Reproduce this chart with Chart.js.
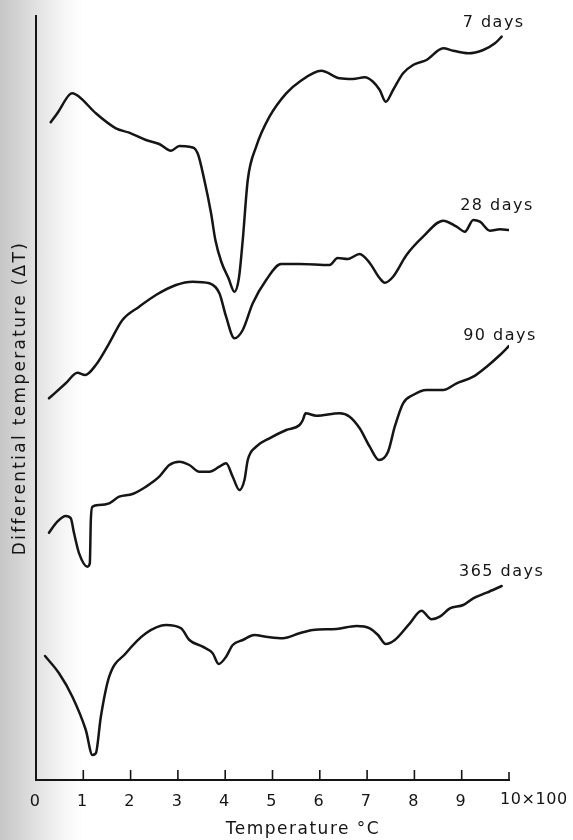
<!DOCTYPE html>
<html>
<head>
<meta charset="utf-8">
<script src="https://cdn.jsdelivr.net/npm/chart.js@4/dist/chart.umd.min.js"></script>
<style>
  html, body { margin: 0; padding: 0; }
  body {
    width: 573px; height: 840px; overflow: hidden;
    background: linear-gradient(to right, #c6c6c6 0px, #d3d3d3 18px, #e6e6e6 42px, #f7f7f7 66px, #ffffff 84px);
  }
  canvas { display: block; }
</style>
</head>
<body>
<canvas id="dta" width="573" height="840"></canvas>
<script>
// DTA traces: temperature in units of 100 °C, ΔT in arbitrary units (curves offset for clarity)
const seriesNames = ['7 days', '28 days', '90 days', '365 days'];
const xTickValues = [0, 1, 2, 3, 4, 5, 6, 7, 8, 9, 10];
const xTickLabels = ['0', '1', '2', '3', '4', '5', '6', '7', '8', '9', '10×100'];

const days7T = [0.311,0.451,0.699,0.769,0.911,1.265,1.689,1.970,2.324,2.606,2.854,3.030,3.242,3.417,3.559,3.701,3.792,3.919,4.068,4.195,4.290,4.371,4.477,4.655,4.936,5.290,5.572,6.032,6.419,6.701,6.949,7.125,7.267,7.394,7.549,7.761,7.972,8.256,8.608,8.820,9.138,9.455,9.703,9.845];
const days7DT = [65.77,66.67,68.50,68.67,68.33,66.67,65.17,64.73,64.00,63.60,62.93,63.40,63.33,62.67,60.00,56.67,54.00,51.80,50.20,48.83,50.20,54.00,60.00,63.33,66.33,68.67,69.83,70.93,70.17,70.10,70.27,69.83,69.00,67.83,69.00,70.67,71.50,72.00,73.17,72.93,72.67,73.00,73.67,74.33];

const days28T = [0.275,0.629,0.875,1.038,1.265,1.547,1.828,2.182,2.536,2.960,3.311,3.665,3.877,4.019,4.195,4.371,4.583,4.866,5.184,5.572,6.208,6.377,6.589,6.843,7.055,7.267,7.373,7.549,7.833,8.184,8.608,8.892,9.068,9.244,9.386,9.597,9.809,10.0];
const days28DT = [38.17,39.67,40.73,40.50,41.50,43.67,46.00,47.33,48.50,49.50,49.83,49.67,48.67,46.33,44.17,45.00,47.67,50.00,51.60,51.60,51.50,52.20,52.10,52.60,51.70,50.17,49.73,50.33,52.50,54.33,55.93,55.33,54.83,56.00,55.83,54.93,55.07,55.00];

const days90T = [0.275,0.451,0.629,0.735,0.805,0.911,1.087,1.138,1.159,1.193,1.335,1.547,1.758,2.040,2.324,2.606,2.818,3.030,3.242,3.453,3.665,3.877,4.019,4.159,4.301,4.407,4.477,4.655,4.936,5.290,5.572,5.642,5.699,5.926,6.419,6.631,6.843,7.055,7.252,7.443,7.585,7.761,7.972,8.256,8.608,8.892,9.244,9.528,9.809,10.0];
const days90DT = [24.73,25.83,26.40,26.17,24.67,22.67,21.33,21.67,26.00,27.33,27.50,27.67,28.33,28.60,29.33,30.33,31.50,31.83,31.50,30.83,30.83,31.33,31.67,30.33,29.00,30.00,32.00,33.33,34.17,35.00,35.50,36.00,36.67,36.43,36.67,36.33,35.17,33.33,32.00,32.83,35.33,37.67,38.50,39.00,39.00,39.67,40.33,41.33,42.50,43.40];

const days365T = [0.191,0.487,0.769,1.053,1.193,1.265,1.371,1.547,1.900,2.324,2.748,3.066,3.242,3.523,3.735,3.862,4.019,4.159,4.371,4.619,4.866,5.218,5.572,5.854,6.350,6.773,7.055,7.231,7.394,7.585,7.903,8.150,8.362,8.538,8.750,9.032,9.244,9.528,9.845];
const days365DT = [12.40,10.67,8.33,5.00,2.50,2.67,6.33,10.33,12.67,14.67,15.50,15.17,14.00,13.33,12.67,11.60,12.33,13.50,14.00,14.50,14.33,14.17,14.67,15.00,15.10,15.40,15.17,14.50,13.60,14.00,15.67,16.93,16.07,16.33,17.17,17.50,18.17,18.73,19.40];

const seriesT = [days7T, days28T, days90T, days365T];
const seriesDT = [days7DT, days28DT, days90DT, days365DT];

// styling
const INK = '#151515';
const FONT = '"DejaVu Sans", "Liberation Sans", sans-serif';
const labelOffsets = [[-8, -14], [-12, -24], [-9, -10], [0, -14]]; // px from each trace's end

const datasets = seriesNames.map((name, i) => ({
  label: name,
  data: seriesT[i].map((t, k) => ({ x: t, y: seriesDT[i][k] })),
  borderColor: INK,
  borderWidth: 2.5,
  pointRadius: 0,
  fill: false,
  cubicInterpolationMode: 'monotone',
  borderCapStyle: 'round',
  borderJoinStyle: 'round'
}));

const decor = {
  id: 'decor',
  beforeDraw(chart) {
    chart.ctx.letterSpacing = '2.3px';
  },
  afterDraw(chart) {
    const { ctx, chartArea, scales: { x } } = chart;
    ctx.save();
    // inward tick marks on the temperature axis
    ctx.strokeStyle = INK;
    ctx.lineWidth = 1.6;
    xTickValues.slice(1).forEach(v => {
      const px = x.getPixelForValue(v);
      ctx.beginPath();
      ctx.moveTo(px, chartArea.bottom);
      ctx.lineTo(px, chartArea.bottom - (v === 10 ? 8 : 10));
      ctx.stroke();
    });
    ctx.fillStyle = INK;
    // last tick label carries the multiplier
    ctx.font = '16px ' + FONT;
    ctx.textAlign = 'left';
    ctx.textBaseline = 'middle';
    ctx.letterSpacing = '0.6px';
    ctx.fillText(xTickLabels[xTickLabels.length - 1], x.getPixelForValue(10) - 9, 800);
    // axis title
    ctx.font = '17px ' + FONT;
    ctx.textAlign = 'center';
    ctx.letterSpacing = '1.5px';
    ctx.fillText('Temperature °C', 303, 830);
    // trace labels at the end of each curve
    ctx.font = '16px ' + FONT;
    ctx.letterSpacing = '1.5px';
    chart.data.datasets.forEach((ds, i) => {
      const pts = chart.getDatasetMeta(i).data;
      const end = pts[pts.length - 1];
      ctx.fillText(ds.label, end.x + labelOffsets[i][0], end.y + labelOffsets[i][1]);
    });
    ctx.restore();
  }
};

new Chart(document.getElementById('dta'), {
  type: 'line',
  data: { datasets },
  options: {
    responsive: false,
    animation: false,
    devicePixelRatio: 1,
    layout: { padding: { top: 16, right: 64, bottom: 0, left: 0 } },
    plugins: { legend: { display: false }, tooltip: { enabled: false } },
    scales: {
      x: {
        type: 'linear',
        min: 0, max: 10,
        afterFit(s) { s.height = 60; },
        afterBuildTicks(s) { s.ticks = xTickValues.map(v => ({ value: v })); },
        grid: { display: false, drawTicks: false },
        border: { display: true, color: INK, width: 2 },
        ticks: {
          padding: 12,
          color: INK,
          font: { family: FONT, size: 16 },
          maxRotation: 0,
          autoSkip: false,
          callback: (v) => (v === 10 ? '' : xTickLabels[xTickValues.indexOf(v)])
        },
        title: { display: false }
      },
      y: {
        type: 'linear',
        min: 0, max: 76.4,
        afterFit(s) { s.width = 36; },
        grid: { display: false, drawTicks: false },
        border: { display: true, color: INK, width: 2 },
        ticks: { display: false },
        title: {
          display: true,
          text: 'Differential temperature (ΔT)',
          color: INK,
          font: { family: FONT, size: 17 },
          padding: { top: 10, bottom: 0 }
        }
      }
    }
  },
  plugins: [decor]
});
</script>
</body>
</html>
